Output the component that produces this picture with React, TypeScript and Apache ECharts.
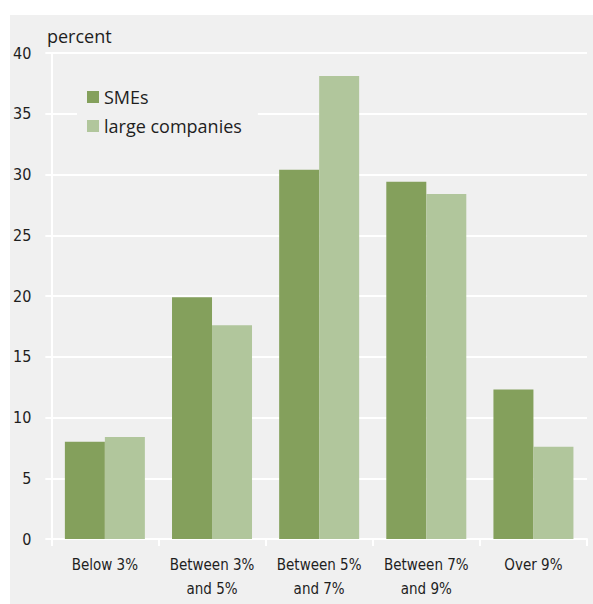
import React, { useEffect, useRef } from "react";
import * as echarts from "echarts";

// Share of companies by interest rate band
const categories = ["Below 3%", "Between 3%\nand 5%", "Between 5%\nand 7%", "Between 7%\nand 9%", "Over 9%"];
const smes = [8.0, 19.9, 30.4, 29.4, 12.3];
const largeCompanies = [8.4, 17.6, 38.1, 28.4, 7.6];
const seriesNames = ["SMEs", "large companies"];
const yTicks = { min: 0, max: 40, interval: 5 };

const DARK = "#84a05c";
const LIGHT = "#b1c69c";
const BG = "#f0f0f0";
const TEXT = "#1e1e1e";
const NARROW = "'DejaVu Sans Condensed', sans-serif";
const REGULAR = "'Open Sans', 'Noto Sans', sans-serif";

export default function App() {
  const ref = useRef<HTMLDivElement>(null);

  useEffect(() => {
    document.body.style.margin = "0";
    if (!ref.current) return;
    const chart = echarts.init(ref.current, undefined, { renderer: "svg" });
    chart.setOption({
      animation: false,
      backgroundColor: BG,
      grid: { left: 38, right: 6, top: 38, bottom: 65 },
      graphic: [
        {
          type: "text",
          left: 37,
          top: 12,
          style: { text: "percent", fill: TEXT, font: `18px ${REGULAR}` },
        },
      ],
      legend: {
        orient: "vertical",
        left: 67,
        top: 67,
        padding: [5, 16, 5, 10],
        backgroundColor: BG,
        itemWidth: 12,
        itemHeight: 12,
        itemGap: 9,
        icon: "rect",
        textStyle: { fontFamily: REGULAR, fontSize: 18, color: TEXT, lineHeight: 20 },
        data: seriesNames,
      },
      xAxis: {
        type: "category",
        data: categories,
        axisLine: { lineStyle: { color: "#ffffff", width: 2 } },
        axisTick: { show: true, length: 7, lineStyle: { color: "#ffffff", width: 2 } },
        axisLabel: { fontFamily: NARROW, fontSize: 15, lineHeight: 24, color: TEXT, margin: 14, interval: 0 },
        splitLine: { show: false },
      },
      yAxis: {
        type: "value",
        min: yTicks.min,
        max: yTicks.max,
        interval: yTicks.interval,
        axisLine: { show: true, lineStyle: { color: "#ffffff", width: 2 } },
        axisTick: { show: true, length: 6, lineStyle: { color: "#ffffff", width: 2 } },
        axisLabel: { fontFamily: NARROW, fontSize: 16, color: TEXT, margin: 20 },
        splitLine: { show: true, lineStyle: { color: "#ffffff", width: 2 } },
      },
      series: [
        { name: seriesNames[0], type: "bar", data: smes, barWidth: 40, barGap: "0%", itemStyle: { color: DARK } },
        { name: seriesNames[1], type: "bar", data: largeCompanies, barWidth: 40, barGap: "0%", itemStyle: { color: LIGHT } },
      ],
    });
    return () => chart.dispose();
  }, []);

  return (
    <div style={{ position: "relative", width: 593, height: 604, background: "#ffffff" }}>
      <div ref={ref} style={{ position: "absolute", left: 10, top: 15, width: 583, height: 589 }} />
    </div>
  );
}
